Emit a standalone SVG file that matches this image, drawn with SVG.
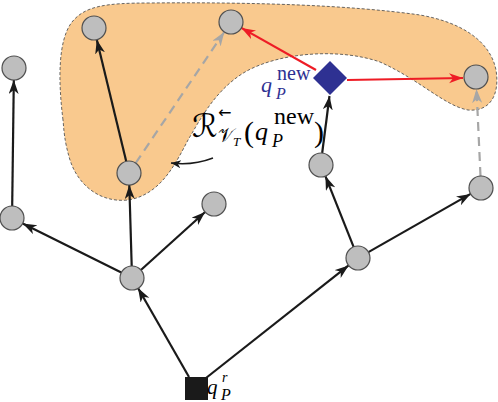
<svg xmlns="http://www.w3.org/2000/svg" width="498" height="402" viewBox="0 0 498 402">
<style>
.n{fill:#bebebe;stroke:#505050;stroke-width:1.2}
.e{stroke:#1a1a1a;stroke-width:2.2;fill:none;marker-end:url(#ab)}
.d{stroke:#a6a6a6;stroke-width:2.2;fill:none;stroke-dasharray:9,6;marker-end:url(#ag)}
.r{stroke:#ee1c25;stroke-width:2.2;fill:none;marker-end:url(#ar)}
.t{font-family:"Liberation Serif","DejaVu Serif",serif;fill:#000}
.b{fill:#2e3192}
.i{font-style:italic}
.s{font-family:"DejaVu Sans",sans-serif;font-style:normal}
</style>
<defs>
<marker id="ab" markerWidth="16" markerHeight="12" refX="14" refY="5" orient="auto" markerUnits="userSpaceOnUse"><path d="M0,0 L14,5 L0,10 L4,5 z" fill="#1a1a1a"/></marker>
<marker id="as" markerWidth="12" markerHeight="10" refX="10" refY="4" orient="auto" markerUnits="userSpaceOnUse"><path d="M0,0 L10,4 L0,8 L3,4 z" fill="#1a1a1a"/></marker>
<marker id="ag" markerWidth="16" markerHeight="12" refX="14" refY="5" orient="auto" markerUnits="userSpaceOnUse"><path d="M0,0 L14,5 L0,10 L4,5 z" fill="#a6a6a6"/></marker>
<marker id="ar" markerWidth="16" markerHeight="12" refX="14" refY="5" orient="auto" markerUnits="userSpaceOnUse"><path d="M0,0 L14,5 L0,10 L4,5 z" fill="#ee1c25"/></marker>
</defs>
<g id="region">
<path d="M63,120 C58,80 58,40 72,22 C85,6 105,3 150,3 C250,2 350,5 420,15 C460,22 490,40 496,70 C500,95 490,112 468,110 C445,106 420,80 380,62 C340,48 280,52 245,72 C215,90 200,120 188,140 C175,165 160,195 128,200 C100,203 78,185 70,160 C64,140 64,130 63,120 Z" fill="#f9c98e" stroke="#555" stroke-width="0.9" stroke-dasharray="3,2"/>
</g>
<g id="connectors">
<line class="e" x1="189" y1="377" x2="138" y2="288"/>
<line class="e" x1="206" y1="378" x2="348.6" y2="265.4"/>
<line class="e" x1="121.3" y1="272.6" x2="22.7" y2="223.4"/>
<line class="e" x1="131.7" y1="266" x2="129.3" y2="185"/>
<line class="e" x1="140.9" y1="270" x2="205.1" y2="212"/>
<line class="e" x1="12.2" y1="206" x2="13.8" y2="80"/>
<line class="e" x1="126.2" y1="161.3" x2="96.8" y2="39.7"/>
<line class="d" x1="135.7" y1="163" x2="224.3" y2="32"/>
<line class="e" x1="353.6" y1="246.9" x2="325.4" y2="176.1"/>
<line class="e" x1="368.4" y1="252.1" x2="470.6" y2="193.9"/>
<line class="e" x1="322.2" y1="153" x2="329.5" y2="96"/>
<line class="d" x1="480.5" y1="176" x2="476.5" y2="89"/>
<line class="r" x1="316" y1="70" x2="241.4" y2="27.9"/>
<line class="r" x1="347" y1="80" x2="463" y2="78"/>
<path d="M213,158 C200,163 186,165 171,163" stroke="#1a1a1a" stroke-width="1.4" fill="none" marker-end="url(#as)"/>
</g>
<g id="nA"><circle class="n" cx="94" cy="28" r="12"/></g>
<g id="nB"><circle class="n" cx="231" cy="22" r="12"/></g>
<g id="nC"><circle class="n" cx="14" cy="68" r="12"/></g>
<g id="nD"><circle class="n" cx="129" cy="173" r="12"/></g>
<g id="nE"><circle class="n" cx="12" cy="218" r="12"/></g>
<g id="nF"><circle class="n" cx="214" cy="204" r="12"/></g>
<g id="nG"><circle class="n" cx="132" cy="278" r="12"/></g>
<g id="nH"><circle class="n" cx="321" cy="165" r="12"/></g>
<g id="nI"><circle class="n" cx="358" cy="258" r="12"/></g>
<g id="nJ"><circle class="n" cx="481" cy="188" r="12"/></g>
<g id="nK"><circle class="n" cx="476" cy="77" r="12"/></g>
<g id="root"><rect x="185" y="377" width="23" height="23" fill="#1a1a1a"/>
<text class="t i" font-size="21"><tspan x="207" y="394">q</tspan><tspan x="222" y="382" font-size="14">r</tspan><tspan x="221" y="400" font-size="16">P</tspan></text>
</g>
<g id="qnew"><path d="M330,61 L347,78 L330,95 L313,78 Z" fill="#2e3192"/>
<text class="t i b" font-size="22"><tspan x="261" y="92">q</tspan><tspan x="277" y="80" font-size="20" font-style="normal">new</tspan><tspan x="276" y="99" font-size="16">P</tspan></text>
</g>
<g id="label">
<text class="t" font-size="30"><tspan class="s" x="192" y="137" font-size="32">ℛ</tspan><tspan class="s" x="218" y="118" font-size="16">←</tspan><tspan class="s" x="218" y="142" font-size="19">𝒱</tspan><tspan class="i" x="233" y="146" font-size="13">T</tspan><tspan x="244" y="142">(</tspan><tspan class="i" x="255" y="140" font-size="26">q</tspan><tspan x="274" y="124" font-size="24">new</tspan><tspan class="i" x="272" y="147" font-size="18">P</tspan><tspan x="314" y="142">)</tspan></text>
</g>
</svg>
